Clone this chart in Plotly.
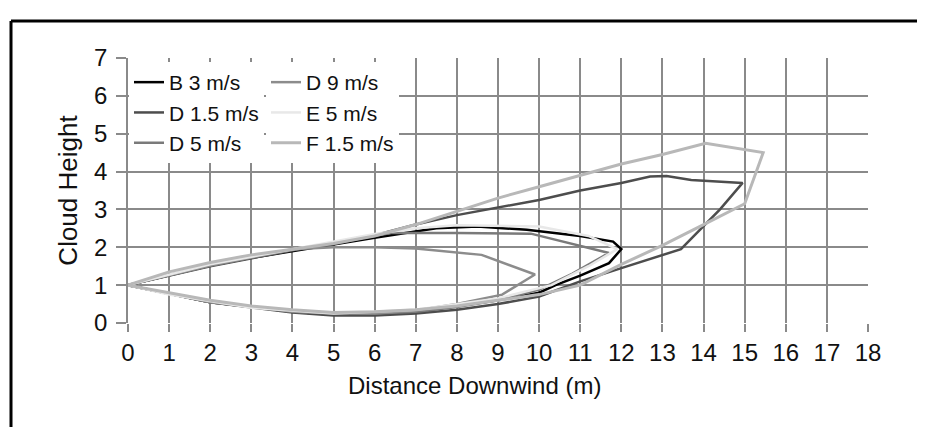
import plotly.graph_objects as go

# ---- data ----
series_names = ["B 3 m/s", "D 1.5 m/s", "D 5 m/s", "D 9 m/s", "E 5 m/s", "F 1.5 m/s"]

b3_x = [0, 2, 3, 4, 6, 7.5, 8.5, 9.7, 11, 11.8, 12, 11.7, 11, 10.4, 10, 9, 8, 7, 6, 5, 4, 2, 0]
b3_y = [1, 1.52, 1.72, 1.9, 2.25, 2.5, 2.55, 2.46, 2.3, 2.15, 1.95, 1.58, 1.25, 1.0, 0.8, 0.6, 0.45, 0.3, 0.22, 0.22, 0.3, 0.55, 1]

d15_x = [0, 2, 4, 5, 6, 7, 8, 9, 10, 11, 12, 12.7, 13.1, 13.7, 14.95, 14.4, 13.45, 12, 11, 10, 9, 8, 7, 6, 5, 4, 2, 0]
d15_y = [1, 1.5, 1.92, 2.08, 2.32, 2.6, 2.85, 3.05, 3.25, 3.5, 3.7, 3.87, 3.88, 3.78, 3.7, 3.0, 1.95, 1.45, 1.1, 0.7, 0.5, 0.35, 0.25, 0.2, 0.2, 0.28, 0.55, 1]

d5_x = [0, 2, 4, 6, 6.4, 8, 9.8, 11.7, 10.8, 10, 9, 8, 7, 6, 5, 4, 2, 0]
d5_y = [1, 1.52, 1.93, 2.3, 2.38, 2.38, 2.36, 1.85, 1.3, 0.88, 0.6, 0.42, 0.3, 0.25, 0.27, 0.32, 0.55, 1]

d9_x = [0, 2, 4, 5, 6, 7, 8.6, 9.9, 9.1, 8, 7, 6, 5, 4, 2, 0]
d9_y = [1, 1.52, 1.95, 2.0, 2.0, 1.97, 1.8, 1.28, 0.75, 0.5, 0.33, 0.25, 0.25, 0.3, 0.55, 1]

e5_x = [0, 2, 4, 6, 7, 8, 10, 11.2, 11.9, 11.2, 10.3, 9, 7, 5, 3, 1, 0]
e5_y = [1, 1.55, 1.95, 2.35, 2.5, 2.58, 2.55, 2.3, 1.95, 1.5, 1.0, 0.65, 0.35, 0.25, 0.4, 0.75, 1]

f15_x = [0, 1, 2, 3, 4, 5, 6, 7, 8, 9, 10, 11, 12, 13, 14.05, 15.45, 15, 14, 13, 12, 11, 10, 9, 8, 7, 6, 5, 4, 3, 2, 1, 0]
f15_y = [1, 1.35, 1.6, 1.8, 1.95, 2.1, 2.3, 2.6, 2.95, 3.3, 3.6, 3.9, 4.2, 4.45, 4.75, 4.5, 3.15, 2.6, 2.05, 1.55, 1.0, 0.75, 0.6, 0.45, 0.35, 0.3, 0.28, 0.35, 0.45, 0.6, 0.8, 1]

x_tick_vals = list(range(0, 19))
y_tick_vals = list(range(0, 8))

x_title = "Distance Downwind (m)"
y_title = "Cloud Height"

# ---- styling ----
colors = ["#000000", "#4d4d4d", "#7a7a7a", "#8c8c8c", "#e8e8e8", "#b8b8b8"]
widths = [2.5, 2.5, 2.5, 2.5, 2.5, 3]
legends = ["legend", "legend", "legend", "legend2", "legend2", "legend2"]
xs = [b3_x, d15_x, d5_x, d9_x, e5_x, f15_x]
ys = [b3_y, d15_y, d5_y, d9_y, e5_y, f15_y]

FONT = "Liberation Sans, Arial, sans-serif"
GRID = "#8a8a8a"

fig = go.Figure()
for name, x, y, c, w, lg in zip(series_names, xs, ys, colors, widths, legends):
    fig.add_trace(go.Scatter(x=x, y=y, mode="lines", name=name,
                             line=dict(color=c, width=w),
                             legend=lg, legendgroup=name))

# page body has an 8px default margin; work in window pixels
OFF = 8
W, H = 925 - OFF, 427 - OFF
PL, PR, PT, PB = 128, 868, 58, 323   # plot area in window pixels
L, R, T, B = PL - OFF, (OFF + W) - PR, PT - OFF, (OFF + H) - PB
PW = PR - PL
PH = PB - PT

def px(xp):
    return (xp - PL) / PW

def py(yp):
    return (PB - yp) / PH

legend_common = dict(
    bgcolor="white", borderwidth=0,
    font=dict(family=FONT, size=21, color="#111"),
    traceorder="grouped", tracegroupgap=0,
    xanchor="left", yanchor="top",
    itemwidth=30,
)

fig.update_layout(
    width=W, height=H,
    margin=dict(l=L, r=R, t=T, b=B),
    paper_bgcolor="white", plot_bgcolor="white",
    font=dict(family=FONT, color="#111"),
    legend=dict(x=px(129), y=py(62), **legend_common),
    legend2=dict(x=px(266), y=py(62), **legend_common),
    xaxis=dict(
        range=[0, 18], tickvals=x_tick_vals, ticktext=[str(v) for v in x_tick_vals],
        showgrid=True, gridcolor=GRID, gridwidth=1.5,
        ticks="outside", ticklen=8, tickcolor=GRID, tickwidth=1.5,
        tickfont=dict(family=FONT, size=24, color="#111"),
        showline=False, zeroline=True, zerolinecolor="#555", zerolinewidth=2,
        fixedrange=True, automargin=False,
    ),
    yaxis=dict(
        range=[0, 7], tickvals=y_tick_vals, ticktext=[str(v) for v in y_tick_vals],
        showgrid=True, gridcolor=GRID, gridwidth=1.5,
        ticks="outside", ticklen=10, tickcolor=GRID, tickwidth=1.5,
        tickfont=dict(family=FONT, size=24, color="#111"),
        ticklabelstandoff=4,
        title=dict(text=y_title, font=dict(family=FONT, size=26, color="#111"), standoff=9),
        showline=True, linecolor=GRID, linewidth=1.5,
        zeroline=False,
        fixedrange=True, automargin=False,
    ),
    showlegend=True,
)

# x-axis title (offset left of the axis centre, as in the original)
fig.add_annotation(text=x_title, xref="paper", yref="paper",
                   x=px(474), y=py(385), xanchor="center", yanchor="middle",
                   showarrow=False, font=dict(family=FONT, size=24, color="#111"))

# page frame (black border, left and top)
fig.add_shape(type="line", xref="paper", yref="paper",
              x0=px(11), x1=px(940), y0=py(21), y1=py(21),
              line=dict(color="black", width=3))
fig.add_shape(type="line", xref="paper", yref="paper",
              x0=px(11), x1=px(11), y0=py(21), y1=py(440),
              line=dict(color="black", width=3))

fig.write_html("out.html")
